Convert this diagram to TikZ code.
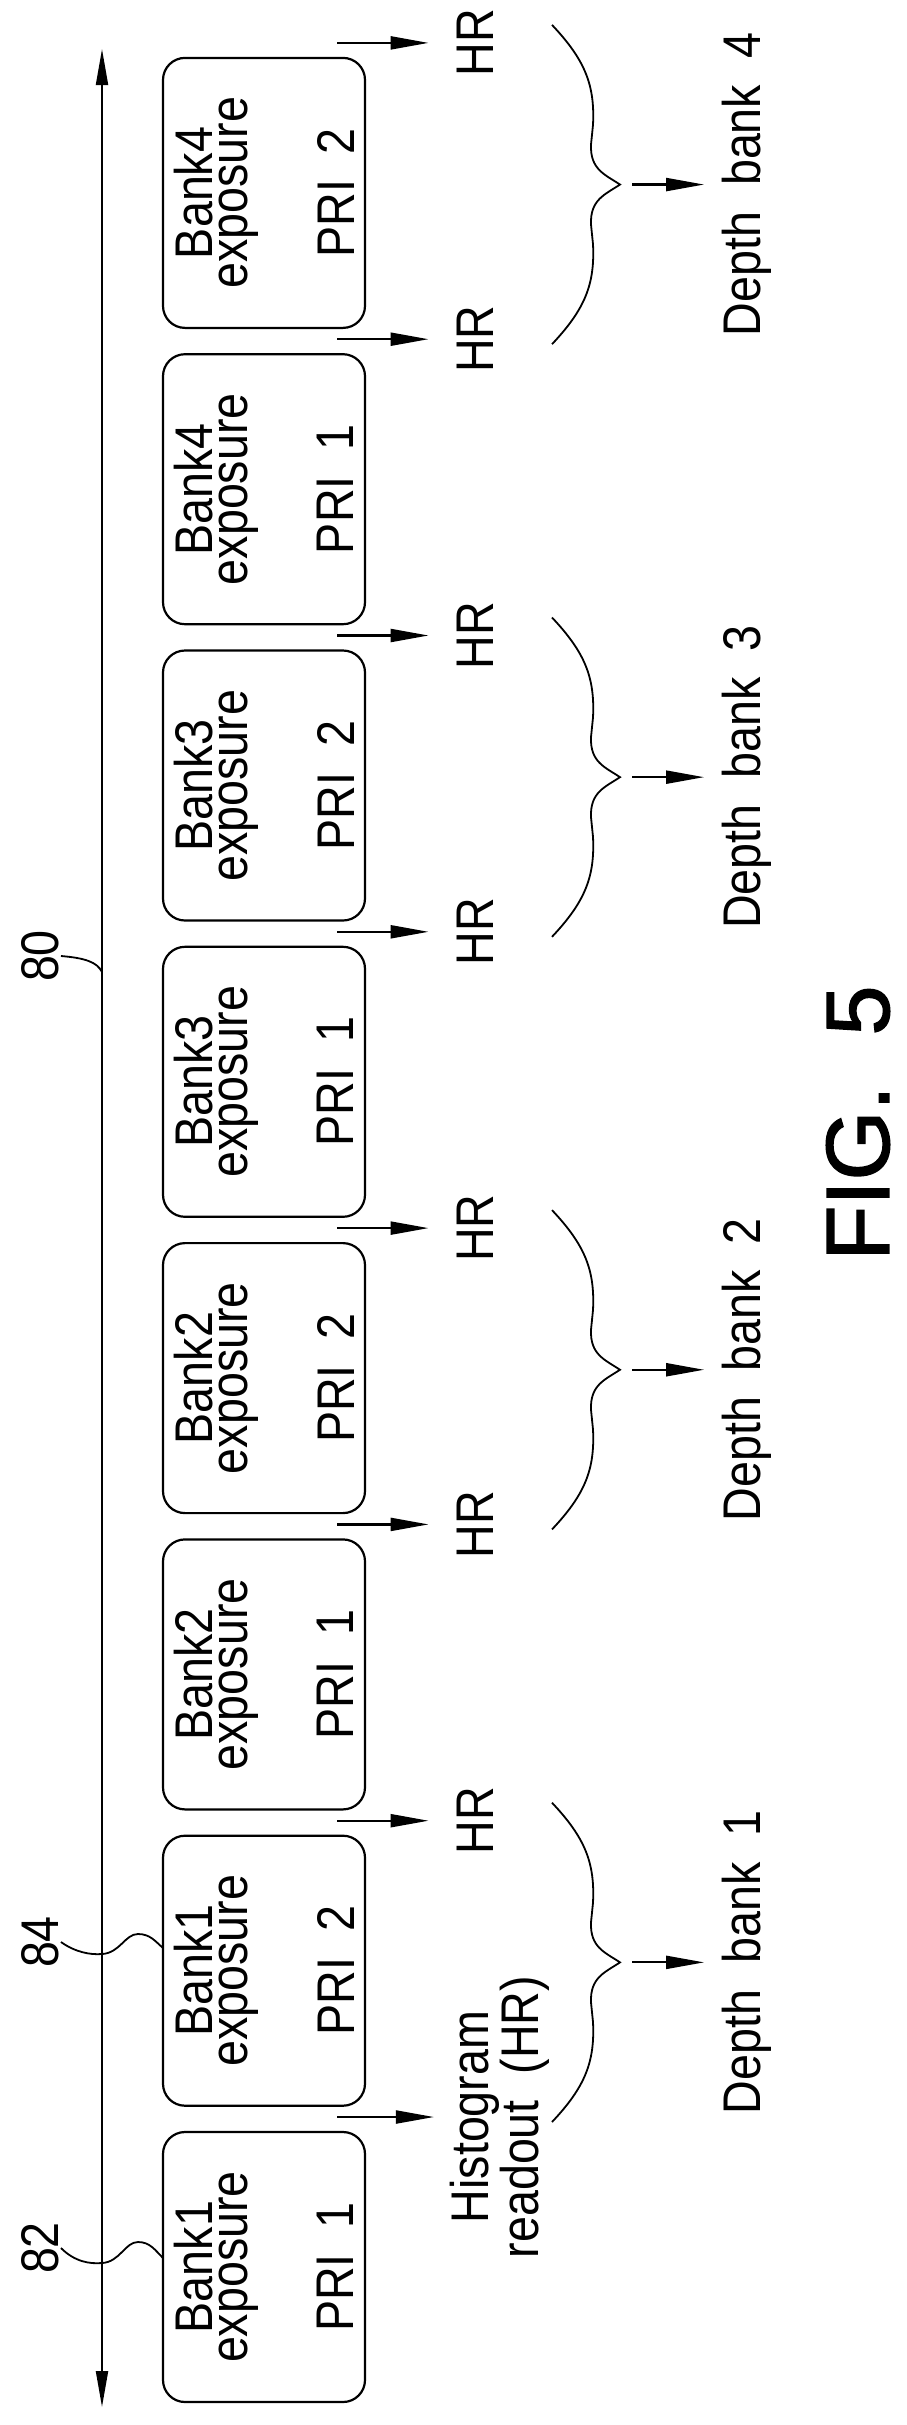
\documentclass[tikz,border=0pt]{standalone}
\usepackage{fontspec}
\setmainfont{Liberation Sans}[FakeStretch=0.88]
\newfontfamily\figfont{Liberation Sans}[FakeBold=1.5]
\usetikzlibrary{positioning,arrows.meta}

\tikzset{
  expbox/.style={draw, line width=2.2pt, rounded corners=22pt, rotate=90,
    minimum width=270pt, minimum height=202pt, align=center, inner sep=0pt},
  lbl/.style={rotate=90, inner sep=2pt, align=center},
  hr/.style={-{Triangle[length=38pt,width=13pt]}, line width=2.2pt},
  brace/.style={line width=1.8pt},
  leader/.style={line width=1.8pt},
}

\begin{document}
\begin{tikzpicture}[x=1pt, y=-1pt, font=\fontsize{53}{35}\selectfont]
    \useasboundingbox (0,0) rectangle (907,2425);

    % Time axis
    \coordinate (axtop) at (102,49);
    \coordinate (axbot) at (102,2407);
    \draw[{Triangle[length=36pt,width=12pt]}-{Triangle[length=36pt,width=12pt]}, line width=2pt] (axtop) -- (axbot);

    % Exposure boxes
    \foreach \b/\p [count=\i from 0] in {1/1,1/2,2/1,2/2,3/1,3/2,4/1,4/2} {
        \node[expbox] (box\i) at (264, 2267-296.3*\i) {Bank\b\\exposure\\[58pt]PRI\ \ \p};
        \coordinate (out\i) at (337, 2117-296.3*\i);
    }

    % Histogram readouts
    \node[lbl] (hr0) at (500, 2117) {Histogram\\readout\ \ (HR)};
    \draw[hr, shorten >=14pt] (out0) -- (hr0.north);
    \foreach \i in {1,...,7} {
        \node[lbl] (hr\i) at (475, 2117-296.3*\i) {HR};
        \draw[hr, shorten >=26pt] (out\i) -- (hr\i.north);
    }

    % Depth banks
    \foreach \k in {1,...,4} {
        \pgfmathsetmacro\btop{2117-296.3*(2*\k-1)-18}
        \pgfmathsetmacro\bbot{2117-296.3*(2*\k-2)+5}
        \pgfmathsetmacro\bmid{(\btop+\bbot)/2}
        \draw[brace] (552,\btop) .. controls (585,\btop+35) and (595,\btop+60) .. (593,\btop+100)
            -- (591,\bmid-40) .. controls (590,\bmid-15) and (605,\bmid-10) .. (620,\bmid) coordinate (tip\k)
            .. controls (605,\bmid+10) and (590,\bmid+15) .. (591,\bmid+40)
            -- (593,\bbot-100) .. controls (595,\bbot-60) and (585,\bbot-35) .. (552,\bbot);
        \node[lbl] (depth\k) at (747,\bmid) {Depth\ \ bank\ \ \k};
        \draw[hr, shorten <=12pt, shorten >=16pt] (tip\k) -- (depth\k.north);
    }

    % Reference numerals
    \node[lbl] (ref80) at (40,956) {80};
    \node[lbl] (ref82) at (40,2248) {82};
    \node[lbl] (ref84) at (40,1942) {84};
    \draw[leader] (ref80.south) .. controls (85,958) and (97,962) .. (102,972);
    \draw[leader] (ref82.south) .. controls (75,2262) and (90,2264) .. (102,2263)
        .. controls (120,2262) and (125,2242) .. (138,2242)
        .. controls (150,2242) and (155,2250) .. (163,2258);
    \draw[leader] (ref84.south) .. controls (75,1952) and (90,1955) .. (102,1954)
        .. controls (120,1953) and (125,1934) .. (138,1934)
        .. controls (150,1934) and (155,1941) .. (163,1948);

    % Figure title
    \node[rotate=90, font=\figfont\fontsize{90}{90}\selectfont] (fig) at (858,1123) {FIG.\ \ 5};
\end{tikzpicture}
\end{document}
